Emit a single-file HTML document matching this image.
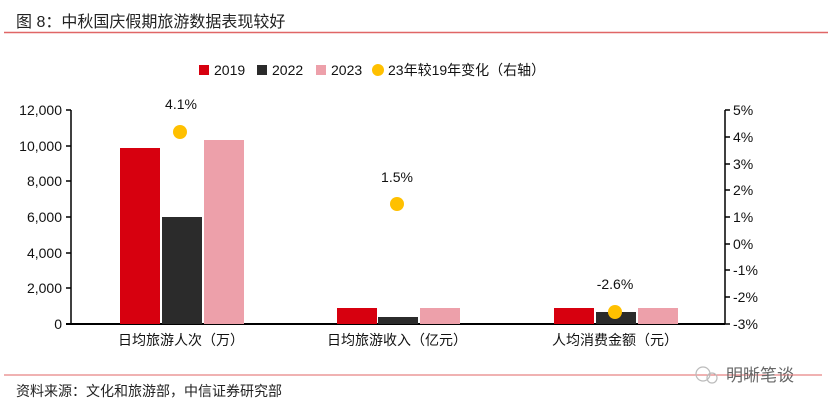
<!DOCTYPE html>
<html><head><meta charset="utf-8"><style>
body{margin:0;background:#fff;}
svg{display:block;font-family:"Liberation Sans","Noto Sans CJK SC",sans-serif;}
</style></head><body>
<svg width="832" height="408" viewBox="0 0 832 408" xmlns="http://www.w3.org/2000/svg">
<text x="16" y="27" font-size="16" fill="#222">图 8：中秋国庆假期旅游数据表现较好</text>
<line x1="4" y1="32.5" x2="828" y2="32.5" stroke="#e06666" stroke-width="1.5"/>
<g font-size="14" fill="#111">
<rect x="199" y="65" width="10" height="10" fill="#d7000f"/><text x="214" y="75">2019</text>
<rect x="257" y="65" width="10" height="10" fill="#2b2b2b"/><text x="272" y="75">2022</text>
<rect x="316" y="65" width="10" height="10" fill="#eda0aa"/><text x="331" y="75">2023</text>
<circle cx="378" cy="70" r="6" fill="#ffc000"/><text x="388" y="75">23年较19年变化（右轴）</text>
</g>
<g stroke="#000" stroke-width="1.5" fill="none">
<path d="M71 110 V324 M66 110 H71 M66 146 H71 M66 181 H71 M66 217 H71 M66 253 H71 M66 288 H71"/>
<line x1="66" y1="324" x2="725" y2="324" stroke-width="2"/>
<path d="M725 110 V324 M725 110 H730 M725 137 H730 M725 164 H730 M725 190 H730 M725 217 H730 M725 244 H730 M725 270 H730 M725 297 H730 M725 324 H730"/>
</g>
<g font-size="14" fill="#111" text-anchor="end">
<text x="62" y="115">12,000</text><text x="62" y="151">10,000</text><text x="62" y="186">8,000</text>
<text x="62" y="222">6,000</text><text x="62" y="258">4,000</text><text x="62" y="293">2,000</text><text x="62" y="329">0</text>
</g>
<g font-size="14" fill="#111">
<text x="733" y="115">5%</text><text x="733" y="142">4%</text><text x="733" y="169">3%</text><text x="733" y="195">2%</text>
<text x="733" y="222">1%</text><text x="733" y="249">0%</text><text x="733" y="275">-1%</text><text x="733" y="302">-2%</text><text x="733" y="329">-3%</text>
</g>
<rect x="120" y="148" width="40" height="176" fill="#d7000f"/>
<rect x="162" y="217" width="40" height="107" fill="#2b2b2b"/>
<rect x="204" y="140" width="40" height="184" fill="#eda0aa"/>
<rect x="337" y="308" width="40" height="16" fill="#d7000f"/>
<rect x="378" y="317" width="40" height="7" fill="#2b2b2b"/>
<rect x="420" y="308" width="40" height="16" fill="#eda0aa"/>
<rect x="554" y="308" width="40" height="16" fill="#d7000f"/>
<rect x="596" y="312" width="40" height="12" fill="#2b2b2b"/>
<rect x="638" y="308" width="40" height="16" fill="#eda0aa"/>
<circle cx="180" cy="132" r="7" fill="#ffc000"/>
<circle cx="397" cy="204" r="7" fill="#ffc000"/>
<circle cx="615" cy="312" r="7" fill="#ffc000"/>
<g font-size="14" fill="#111" text-anchor="middle">
<text x="181" y="109">4.1%</text><text x="397" y="182">1.5%</text><text x="615" y="289">-2.6%</text>
<text x="181" y="345">日均旅游人次（万）</text><text x="397" y="345">日均旅游收入（亿元）</text><text x="615" y="345">人均消费金额（元）</text>
</g>
<line x1="4" y1="375" x2="822" y2="375" stroke="#e06666" stroke-width="1"/>
<circle cx="703" cy="374" r="7" fill="none" stroke="#bbb" stroke-width="1.2"/>
<circle cx="712" cy="378" r="5" fill="none" stroke="#bbb" stroke-width="1.2"/>
<text x="726" y="381" font-size="17" fill="#666">明晰笔谈</text>
<text x="16" y="396" font-size="14" fill="#222">资料来源：文化和旅游部，中信证券研究部</text>
</svg>
</body></html>
